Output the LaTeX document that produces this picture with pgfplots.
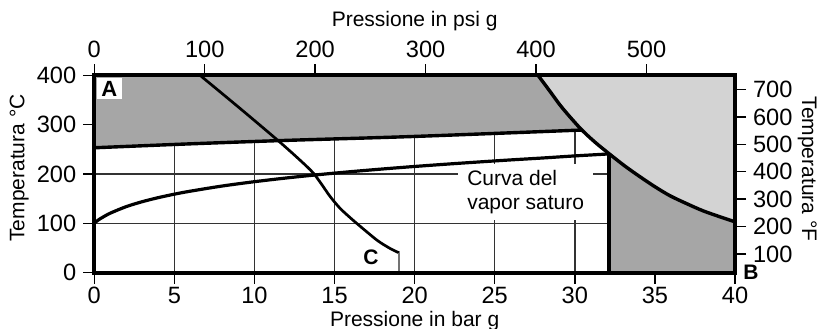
\documentclass[border=0pt]{standalone}
\usepackage{fontspec}
\setmainfont{Liberation Sans}
\usepackage{pgfplots}
\pgfplotsset{compat=1.18}
\definecolor{gA}{HTML}{A6A6A6}
\definecolor{gL}{HTML}{D3D3D3}
\begin{document}
\begin{tikzpicture}
\useasboundingbox (0,0) rectangle (411pt,164pt);
\pgfplotsset{
  common/.style={
    at={(47.15pt,27.75pt)}, anchor=south west,
    scale only axis, width=320.35pt, height=98.6pt,
    tick align=outside, major tick length=5.5pt,
    every tick/.style={black, line width=0.7pt},
    tick label style={font=\fontsize{11.8}{13}\selectfont},
    label style={font=\fontsize{10.5}{12.6}\selectfont},
    /pgf/number format/assume math mode=true,
    axis line style={line width=2pt},
    clip=false,
  }
}
\begin{axis}[common,
  xmin=0, xmax=40, ymin=0, ymax=400,
  xtick={0,5,...,40}, ytick={0,100,...,400},
  xtick pos=left, ytick pos=left,
  xticklabel style={inner ysep=1.5pt},
  grid=major, major grid style={line width=0.7pt, black!80},
  xlabel={Pressione in bar g}, ylabel={Temperatura °C},
  xlabel style={at={([yshift=-27pt]axis description cs:0.5,0)}, anchor=base},
  ylabel style={at={([xshift=-35pt]axis description cs:0,0.53)}, anchor=base},
]
% region A
\addplot[draw=none, fill=gA] coordinates {
 (0,400) (27.7,400) (28.45,367.4) (29.07,339.9) (29.70,315.5) (30.44,289)
 (20,276) (12,268) (6,261) (0,253)} -- cycle;
% light region
\addplot[draw=none, fill=gL] coordinates {
 (27.7,400) (40,400) (40,102.8) (39.06,113) (38,125.2) (37,139.4) (35.94,155.7) (35,174)
 (34.06,194.4) (33.13,215.8) (32.13,241.2) (31.25,264.6) (30.44,289) (29.70,315.5) (29.07,339.9) (28.45,367.4)} -- cycle;
% dark region bottom right
\addplot[draw=none, fill=gA] coordinates {
 (32.13,0) (32.13,241.2) (33.13,215.8) (34.06,194.4) (35,174) (35.94,155.7) (37,139.4) (38,125.2)
 (39.06,113) (40,102.8) (40,0)} -- cycle;
% text box
\node[fill=white, align=left, anchor=north west, inner xsep=4.5pt, inner ysep=3pt,
  font=\fontsize{10.5}{12}\selectfont] at (axis cs:22.7,220.8) {Curva del\\vapor saturo};
\node[fill=white, anchor=north west, inner xsep=2.3pt, inner ysep=1.6pt,
  font=\bfseries\fontsize{11}{13}\selectfont] at ([xshift=1pt,yshift=-1pt]axis cs:0,400) {A};
% upper line
\addplot[black, line width=1.7pt, smooth] coordinates {
 (0,253) (6,261) (12,268) (20,276) (30.44,289)};
% saturated steam curve
\addplot[black, line width=1.6pt, smooth] coordinates {
 (0,100) (0.25,106.5) (0.5,111.6) (1,120.4) (2,133.7) (3,143.7) (4,151.9) (5,158.9)
 (6,165) (8,175.5) (10,184.2) (12,191.8) (14,198.5) (16,204.5) (18,210) (20,215.1)
 (22,219.8) (24,224.2) (26,228.4) (28,232.3) (30,236.5) (32.13,240.5)};
% vertical at 32.13
\addplot[black, line width=1.7pt] coordinates {(32.13,0) (32.13,241)};
% curve C
\addplot[black, line width=1.35pt, smooth] coordinates {
 (6.6,400) (9.10,332.8) (11.47,267.7) (12.84,228.0) (13.65,202.5) (14.21,178.1)
 (14.71,154.7) (15.34,130.3) (16.09,107.9) (16.90,85.5) (17.71,64.1) (18.46,48.9) (19.04,39.7)};
\addplot[black!55, line width=1.2pt] coordinates {(19.04,39.7) (19.04,0)};
% boundary curve
\addplot[black, line width=1.7pt, smooth] coordinates {
 (27.7,400) (28.45,367.4) (29.07,339.9) (29.70,315.5) (30.44,289) (31.25,264.6) (32.13,241.2)
 (33.13,215.8) (34.06,194.4) (35,174) (35.94,155.7) (37,139.4) (38,125.2) (39.06,113) (40,102.8)};
\node[font=\bfseries\fontsize{10.5}{12}\selectfont] at (axis cs:17.27,30.5) {C};
\node[font=\bfseries\fontsize{10.5}{12}\selectfont, anchor=west, inner sep=0pt]
  at ([xshift=4pt]axis cs:40,0) {B};
\end{axis}
\begin{axis}[common,
  xmin=0, xmax=580.15, ymin=32, ymax=752,
  xtick={0,100,...,500}, ytick={100,200,...,700},
  xtick pos=right, ytick pos=right, xticklabel pos=right, yticklabel pos=right,
  xlabel={Pressione in psi g}, ylabel={Temperatura °F},
  xlabel style={at={([yshift=24.5pt]axis description cs:0.5,1)}, anchor=base},
  ylabel style={at={([xshift=33.5pt]axis description cs:1,0.525)}, rotate=180, anchor=base},
]
\end{axis}
\end{tikzpicture}
\end{document}
